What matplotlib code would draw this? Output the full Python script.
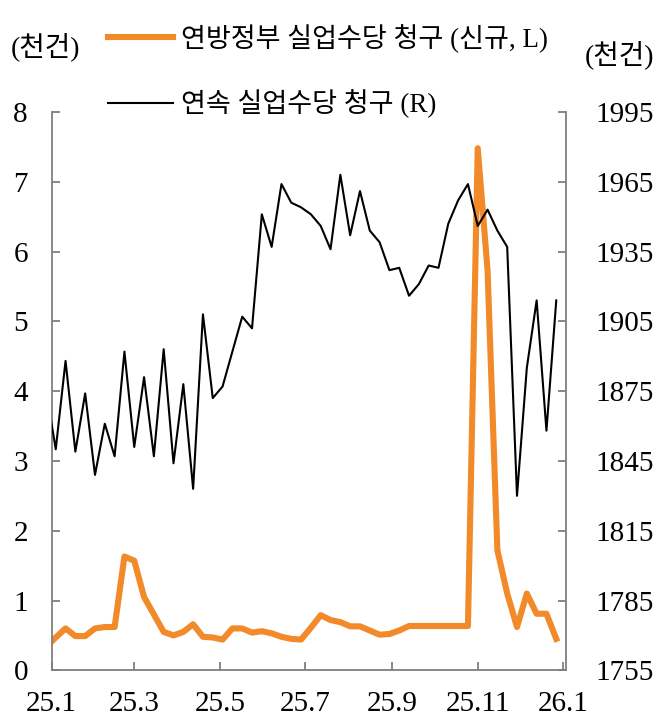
import matplotlib
matplotlib.use('Agg')
import matplotlib.pyplot as plt
import pandas as pd

# weekly data (Saturdays), first point falls just left of the axis
dates = pd.date_range('2024-12-28', periods=53, freq='7D')

federal = [0.33, 0.47, 0.60, 0.49, 0.49, 0.60, 0.62, 0.62, 1.63, 1.57,
           1.05, 0.80, 0.55, 0.50, 0.55, 0.66, 0.48, 0.47, 0.44, 0.60,
           0.60, 0.54, 0.56, 0.53, 0.48, 0.45, 0.44, 0.61, 0.79, 0.72,
           0.69, 0.63, 0.63, 0.57, 0.51, 0.52, 0.57, 0.635, 0.635, 0.635,
           0.635, 0.635, 0.635, 0.635, 7.48, 5.73, 1.72, 1.10, 0.62, 1.10,
           0.81, 0.81, 0.45]

continuing = [1876, 1850, 1888, 1849, 1874, 1839, 1861, 1847, 1892, 1851,
              1881, 1847, 1893, 1844, 1878, 1833, 1908, 1872, 1877, 1892,
              1907, 1902, 1951, 1937, 1964, 1956, 1954, 1951, 1946, 1936,
              1968, 1942, 1961, 1944, 1939, 1927, 1928, 1916, 1921, 1929,
              1928, 1947, 1957, 1964, 1946, 1953, 1944, 1937, 1830, 1885,
              1914, 1858, 1914]

tick_dates = pd.to_datetime(['2025-01-01', '2025-03-01', '2025-05-01', '2025-07-01',
                             '2025-09-01', '2025-11-01', '2026-01-01'])
tick_labels = ['25.1', '25.3', '25.5', '25.7', '25.9', '25.11', '26.1']

label_fed = '연방정부 실업수당 청구 (신규, L)'
label_cont = '연속 실업수당 청구 (R)'

plt.rcParams['font.family'] = ['Liberation Serif', 'Noto Sans CJK KR']
plt.rcParams['font.size'] = 20

orange = '#F28A2A'
gray = '#7f7f7f'

fig = plt.figure(figsize=(6.58, 7.27), dpi=100)
ax = fig.add_axes([0.0783, 0.078, 0.782, 0.768])
ax2 = ax.twinx()

l1, = ax.plot(dates, federal, color=orange, lw=4.4, solid_joinstyle='round')
l2, = ax2.plot(dates, continuing, color='black', lw=1.5)

ax.set_xlim(pd.Timestamp('2025-01-01'), pd.Timestamp('2026-01-03'))
ax.set_ylim(0, 8)
ax2.set_ylim(1755, 1995)
ax.set_yticks(range(0, 9))
ax2.set_yticks(range(1755, 1996, 30))
ax.set_xticks(tick_dates)
ax.set_xticklabels(tick_labels)

for a in (ax, ax2):
    a.spines['top'].set_visible(False)
    for s in ('left', 'right', 'bottom'):
        a.spines[s].set_color(gray)
        a.spines[s].set_linewidth(1.3)
ax.spines['right'].set_visible(False)
ax2.spines['left'].set_visible(False)
ax2.spines['bottom'].set_visible(False)

ax.tick_params(axis='y', direction='in', length=6, width=1.3, color=gray, pad=17, labelsize=21)
ax.tick_params(axis='x', direction='in', length=6, width=1.3, color=gray, pad=15, labelsize=21)
ax2.tick_params(axis='y', direction='in', length=6, width=1.3, color=gray, pad=21, labelsize=21)

fig.text(45 / 658, 1 - 47 / 727, '(천건)', ha='center', va='center', fontsize=20)
fig.text(620 / 658, 1 - 55 / 727, '(천건)', ha='center', va='center', fontsize=20)

fig.legend([l1, l2], [label_fed, label_cont], loc='upper left',
           bbox_to_anchor=(108 / 658, 1 - 24 / 727), frameon=False,
           borderpad=0, borderaxespad=0, handlelength=2.4,
           handletextpad=0.3, labelspacing=1.35, fontsize=19.5)

fig.savefig('out.png', dpi=100, facecolor='white')
